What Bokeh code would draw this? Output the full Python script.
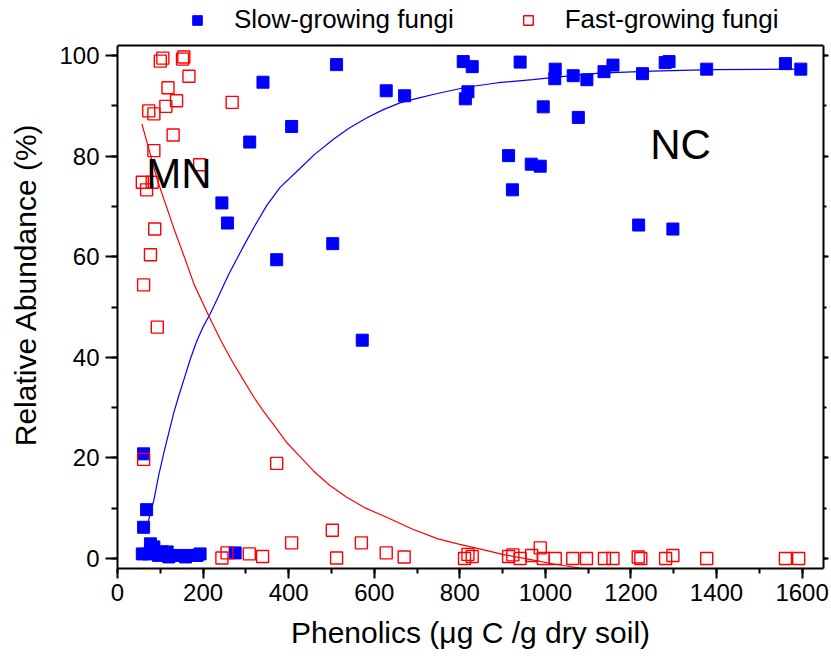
from bokeh.plotting import figure
from bokeh.models import (Range1d, SingleIntervalTicker, Legend, LegendItem, Label, LinearAxis,
                          CustomJSTickFormatter, Span)
from bokeh.embed import file_html
from bokeh.resources import INLINE

# Slow-growing fungi (filled blue squares)
slow_x = [61, 68, 61, 58, 77, 85, 73, 96, 104, 116, 120, 139, 159, 166, 186, 193, 275,
          244, 257, 309, 340, 372, 407, 503, 512, 572, 628, 671, 808, 813, 819, 829,
          914, 923, 941, 967, 988, 995, 1022, 1023, 1065, 1077, 1097, 1137, 1158,
          1218, 1227, 1280, 1289, 1298, 1377, 1561, 1597]
slow_y = [20.8, 9.7, 6.2, 0.9, 2.9, 2.3, 0.9, 0.6, 1.3, 1.3, 0.3, 0.6, 0.3, 0.6, 0.6, 0.9, 1.1,
          70.7, 66.7, 82.8, 94.7, 59.4, 85.9, 62.6, 98.2, 43.4, 93.0, 92.0, 98.8, 91.4, 92.8, 97.8,
          80.1, 73.3, 98.7, 78.4, 78.0, 89.8, 95.4, 97.3, 96.0, 87.7, 95.2, 96.8, 98.1,
          66.3, 96.4, 98.6, 98.8, 65.5, 97.3, 98.4, 97.3]

# Fast-growing fungi (open red squares)
fast_x = [106, 100, 155, 152, 167, 118, 138, 113, 73, 85, 268, 130, 85, 192, 58, 81, 68,
          87, 77, 61, 93, 61, 372, 407, 256, 244, 308, 339, 502, 512, 570, 628, 670,
          811, 819, 829, 914, 924, 941, 968, 988, 995, 1023, 1064, 1096, 1138, 1158,
          1217, 1223, 1281, 1298, 1377, 1561, 1592]
fast_y = [99.5, 98.9, 99.7, 99.3, 95.9, 93.6, 91.0, 89.9, 89.0, 88.4, 90.7, 84.2, 81.1, 78.3, 74.8, 74.8, 73.3,
          65.5, 60.4, 54.4, 46.0, 19.7, 18.9, 3.1, 1.1, 0.1, 0.9, 0.4, 5.6, 0.1, 3.1, 1.1, 0.3,
          0.0, 0.8, 0.4, 0.4, 0.7, 0.0, 0.6, 2.1, 0.0, 0.0, 0.0, 0.0, 0.0, 0.0,
          0.3, 0.0, 0.0, 0.6, 0.0, 0.0, 0.0]

# Fitted curves, points
slow_fit_x = [65, 75, 85, 96, 108, 120, 131, 143, 155, 170, 186, 201, 217, 232, 260, 294, 320,
              349, 380, 427, 460, 504, 540, 582, 620, 660, 700, 740, 815, 890, 970, 1050,
              1126, 1250, 1389, 1597]
slow_fit_y = [4.9, 8.4, 11.6, 16.4, 20.9, 25.0, 28.8, 32.3, 35.5, 39.6, 43.4, 46.2, 48.7, 51.4,
              56.5, 62.0, 66.0, 70.2, 73.8, 77.6, 80.3, 83.3, 85.5, 87.6, 89.2, 90.6, 91.5,
              92.3, 93.7, 94.6, 95.2, 95.9, 96.5, 96.9, 97.2, 97.3]
fast_fit_x = [57, 75, 93, 113, 133, 156, 179, 214, 240, 264, 294, 320, 341, 370, 396, 425,
              458, 495, 535, 580, 629, 690, 749, 800, 846, 900, 963, 1020, 1079, 1180, 1297,
              1450, 1592]
fast_fit_y = [86.4, 80.9, 75.3, 70.3, 65.3, 60.0, 54.5, 48.1, 43.6, 39.8, 35.5, 31.9, 29.3, 26.0,
              23.0, 20.4, 17.4, 14.6, 12.2, 10.0, 8.2, 5.8, 3.9, 2.8, 1.9, 0.8, -0.2, -1.1,
              -1.9, -2.7, -3.2, -3.7, -4.0]

x_title = "Phenolics (\u03bcg C /g dry soil)"
y_title = "Relative Abundance (%)"
series_names = ["Slow-growing fungi", "Fast-growing fungi"]
region_labels = ["MN", "NC"]

X_LIM = (0, 1650)
Y_LIM = (-2, 102)      # the axes box
Y_VIEW_TOP = 110.95    # extra room above the box for the legend

FONT = "Liberation Sans"
BLUE = "#0000FF"
RED = "#FF0000"

p = figure(width=831, height=656, output_backend="svg", toolbar_location=None,
           x_range=Range1d(*X_LIM), y_range=Range1d(Y_LIM[0], Y_VIEW_TOP),
           min_border_left=117, min_border_right=8, min_border_top=0, min_border_bottom=88)
p.title.visible = False
p.grid.visible = False
p.outline_line_color = None
p.background_fill_color = "white"
p.border_fill_color = "white"

p.xaxis.ticker = SingleIntervalTicker(interval=200, num_minor_ticks=2)
p.yaxis.ticker = SingleIntervalTicker(interval=20, num_minor_ticks=2)
p.yaxis.bounds = Y_LIM
p.xaxis.axis_label = x_title
p.yaxis.axis_label = y_title
for ax in (p.xaxis[0], p.yaxis[0]):
    ax.axis_line_width = 2
    ax.axis_line_color = "black"
    ax.major_tick_line_width = 2
    ax.minor_tick_line_width = 2
    ax.major_tick_in = 0
    ax.minor_tick_in = 0
    ax.major_label_text_font = FONT
    ax.major_label_text_font_size = "24px"
    ax.major_label_text_color = "black"
    ax.axis_label_text_font = FONT
    ax.axis_label_text_font_size = "30px"
    ax.axis_label_text_font_style = "normal"
    ax.axis_label_text_color = "black"
p.xaxis.major_tick_out = 10
p.xaxis.minor_tick_out = 5
p.yaxis.major_tick_out = 12
p.yaxis.minor_tick_out = 6
p.xaxis.major_label_standoff = 5
p.yaxis.major_label_standoff = 6
p.xaxis.axis_label_standoff = 12
p.yaxis.axis_label_standoff = 14

# right side of the box: ticks only
right_ax = LinearAxis(ticker=SingleIntervalTicker(interval=20, num_minor_ticks=2),
                      formatter=CustomJSTickFormatter(code="return ''"), bounds=Y_LIM)
right_ax.axis_line_width = 2
right_ax.major_tick_line_width = 2
right_ax.minor_tick_line_width = 2
right_ax.major_label_standoff = 0
right_ax.major_tick_in = 0
right_ax.major_tick_out = 5
right_ax.minor_tick_in = 0
right_ax.minor_tick_out = 3
p.add_layout(right_ax, "right")

# top side of the box
p.add_layout(Span(location=Y_LIM[1], dimension="width", line_color="black", line_width=2))

p.line(slow_fit_x, slow_fit_y, line_color=BLUE, line_width=1.2)
p.line(fast_fit_x, fast_fit_y, line_color=RED, line_width=1.2)

r_slow = p.scatter(slow_x, slow_y, marker="square", size=12, fill_color=BLUE, line_color=BLUE, line_width=1)
r_fast = p.scatter(fast_x, fast_y, marker="square", size=12, fill_color=None, line_color=RED, line_width=1.4)

p.add_layout(Label(x=67, y=76.6, text=region_labels[0], text_font=FONT, text_font_size="42px",
                   text_color="black", text_baseline="alphabetic", text_align="left"))
p.add_layout(Label(x=1245, y=82.4, text=region_labels[1], text_font=FONT, text_font_size="42px",
                   text_color="black", text_baseline="alphabetic", text_align="left"))

legend = Legend(items=[LegendItem(label=series_names[0], renderers=[r_slow]),
                       LegendItem(label=series_names[1], renderers=[r_fast])],
                orientation="horizontal", location=(68, 533),
                label_text_font=FONT, label_text_font_size="26px", label_text_color="black",
                glyph_width=24, glyph_height=24, label_standoff=25, spacing=62,
                padding=0, margin=0, border_line_color=None, background_fill_alpha=0)
p.add_layout(legend)

open("out.html", "w").write(file_html(p, INLINE))
